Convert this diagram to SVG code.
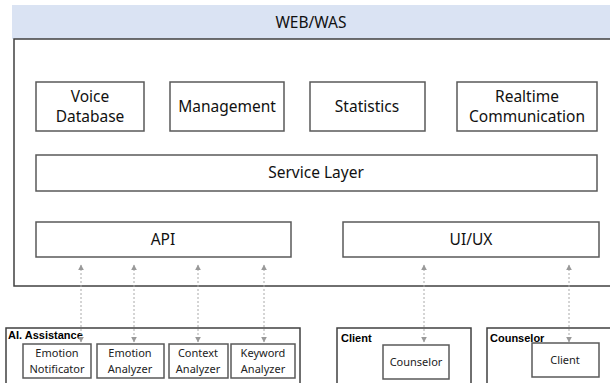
<svg xmlns="http://www.w3.org/2000/svg" width="610" height="383" viewBox="0 0 610 383">
<defs>
<marker id="ah" viewBox="0 0 10 10" refX="9" refY="5" markerWidth="6" markerHeight="6" orient="auto-start-reverse" markerUnits="userSpaceOnUse">
<path d="M0,0 L10,5 L0,10 Z" fill="#999"/>
</marker>
<style>
.box{fill:#fff;stroke:#595959;stroke-width:1.5}
.grp{fill:#fff;stroke:#404040;stroke-width:1.5}
.t{font-family:"Noto Sans","Open Sans",sans-serif;font-size:15.5px;fill:#111;text-anchor:middle}
.s{font-family:"Noto Sans","Open Sans",sans-serif;font-size:11px;fill:#222;text-anchor:middle}
.b{font-family:"Liberation Sans",Arial,sans-serif;font-size:11px;font-weight:bold;fill:#000}
.c{stroke:#aaa;stroke-width:1;stroke-dasharray:2,2;fill:none;marker-start:url(#ah);marker-end:url(#ah)}
</style>
</defs>
<rect width="610" height="383" fill="#fff"/>
<g id="webwas">
<rect x="12" y="5" width="600" height="34" fill="#dae3f3"/>
<rect class="grp" x="14" y="39" width="600" height="247"/>
<text class="t" x="311" y="28">WEB/WAS</text>
</g>
<g id="voice-db"><rect class="box" x="36" y="82" width="108" height="49"/><text class="t" x="90" y="102">Voice</text><text class="t" x="90" y="122">Database</text></g>
<g id="management"><rect class="box" x="170" y="82" width="114" height="49"/><text class="t" x="227" y="112">Management</text></g>
<g id="statistics"><rect class="box" x="310" y="82" width="115" height="49"/><text class="t" x="367" y="112">Statistics</text></g>
<g id="realtime"><rect class="box" x="457" y="82" width="140" height="49"/><text class="t" x="527" y="102">Realtime</text><text class="t" x="527" y="122">Communication</text></g>
<g id="service-layer"><rect class="box" x="36" y="155" width="561" height="36"/><text class="t" x="316" y="178">Service Layer</text></g>
<g id="api"><rect class="box" x="36" y="222" width="255" height="35"/><text class="t" x="163" y="245">API</text></g>
<g id="uiux"><rect class="box" x="343" y="222" width="256" height="35"/><text class="t" x="471" y="245">UI/UX</text></g>
<g id="ai-assistance">
<rect class="grp" x="6" y="328" width="294" height="60"/>
<text class="b" x="8" y="339">AI. Assistance</text>
</g>
<g id="emotion-notificator"><rect class="box" x="23" y="344" width="68" height="34"/><text class="s" x="57" y="357">Emotion</text><text class="s" x="57" y="372.5">Notificator</text></g>
<g id="emotion-analyzer"><rect class="box" x="97" y="344" width="67" height="34"/><text class="s" x="130" y="357">Emotion</text><text class="s" x="130" y="372.5">Analyzer</text></g>
<g id="context-analyzer"><rect class="box" x="169" y="344" width="59" height="34"/><text class="s" x="198" y="357">Context</text><text class="s" x="198" y="372.5">Analyzer</text></g>
<g id="keyword-analyzer"><rect class="box" x="231" y="344" width="64" height="34"/><text class="s" x="263" y="357">Keyword</text><text class="s" x="263" y="372.5">Analyzer</text></g>
<g id="client-group">
<rect class="grp" x="337" y="328" width="134" height="60"/>
<text class="b" x="341" y="342">Client</text>
</g>
<g id="counselor-node"><rect class="box" x="383" y="345" width="66" height="34"/><text class="s" x="416" y="366">Counselor</text></g>
<g id="counselor-group">
<rect class="grp" x="487" y="328" width="130" height="60"/>
<text class="b" x="490" y="342">Counselor</text>
</g>
<g id="client-node"><rect class="box" x="532" y="343" width="67" height="34"/><text class="s" x="565" y="364">Client</text></g>
<g id="connectors">
<line class="c" x1="81" y1="265" x2="81" y2="342"/>
<line class="c" x1="134" y1="265" x2="134" y2="342"/>
<line class="c" x1="198" y1="265" x2="198" y2="342"/>
<line class="c" x1="264" y1="265" x2="264" y2="342"/>
<line class="c" x1="424" y1="265" x2="424" y2="342"/>
<line class="c" x1="569" y1="265" x2="569" y2="342"/>
</g>
</svg>
